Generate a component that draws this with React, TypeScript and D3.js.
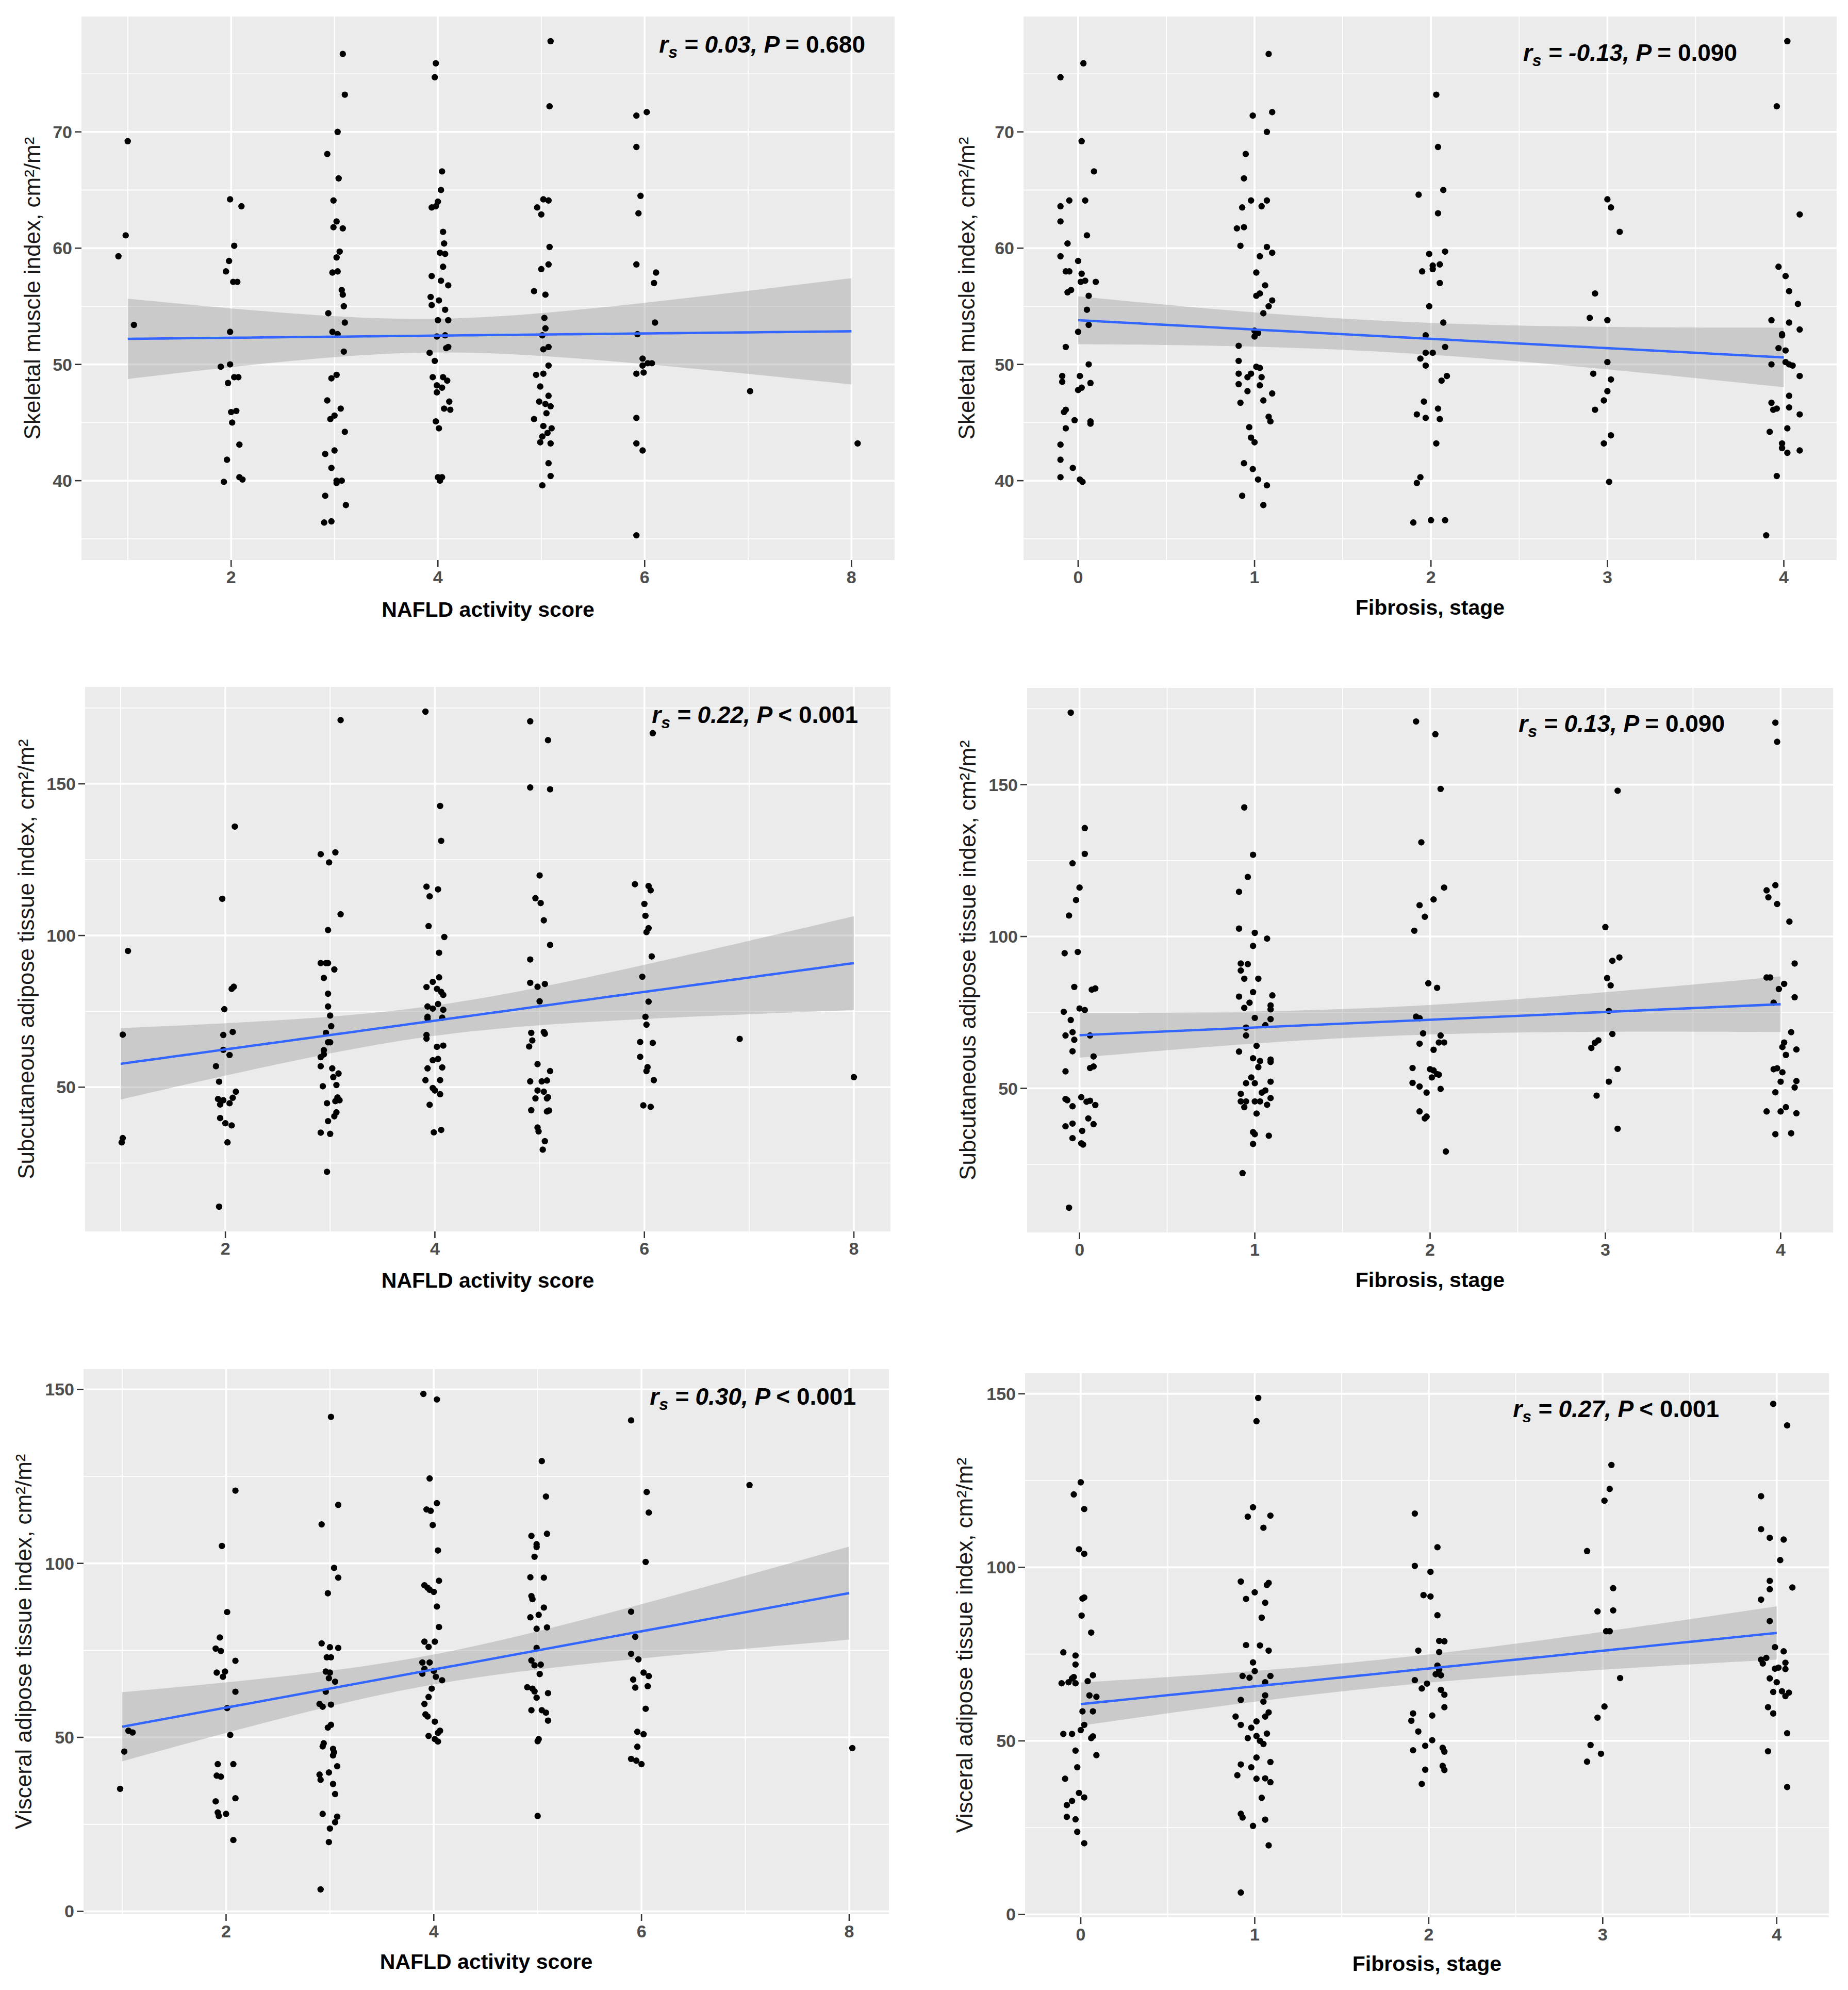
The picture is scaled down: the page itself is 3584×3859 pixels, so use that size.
import React, { useEffect } from "react";
import * as d3 from "d3";

const FONT = "'Liberation Sans', Arial, Helvetica, sans-serif";

// ---------------- tick values ----------------
const nasTicks = [2, 4, 6, 8];
const fibTicks = [0, 1, 2, 3, 4];
const smiTicks = [40, 50, 60, 70];
const satTicks = [50, 100, 150];
const vatTicks = [0, 50, 100, 150];

// ---------------- data: [jittered x, y] ----------------
const smiNas: [number, number][] = [
  [1.00,69.2],[0.98,61.1],[0.91,59.3],[1.06,53.4],
  [1.99,64.2],[2.10,63.6],[2.03,60.2],[1.98,58.9],[1.95,58.0],[2.02,57.1],[2.06,57.1],[1.99,52.8],[1.90,49.8],[1.99,50.0],[2.03,48.9],[2.07,48.9],[1.97,48.4],[2.05,46.0],[2.00,45.9],[2.01,45.0],[2.08,43.1],[1.96,41.8],[1.93,39.9],[2.08,40.3],[2.11,40.1],
  [3.08,76.7],[3.10,73.2],[3.03,70.0],[2.93,68.1],[3.04,66.0],[2.99,64.1],[3.02,62.3],[2.99,61.8],[3.08,61.7],[3.05,59.7],[3.02,59.2],[2.98,57.9],[3.03,58.0],[3.07,56.4],[3.08,56.0],[3.09,55.0],[2.94,54.4],[3.10,53.6],[2.98,52.8],[3.03,52.6],[3.09,51.1],[3.02,49.1],[2.97,48.8],[2.93,46.9],[3.06,46.2],[3.00,45.6],[2.96,45.3],[3.10,44.2],[3.00,42.6],[2.91,42.3],[2.97,41.1],[3.02,40.0],[3.07,40.0],[3.02,39.8],[2.91,38.7],[3.11,37.9],[2.90,36.4],[2.97,36.5],
  [3.98,75.9],[3.97,74.7],[4.04,66.6],[4.03,65.0],[4.00,64.0],[3.94,63.5],[3.98,63.6],[4.05,61.4],[4.06,60.4],[4.02,59.6],[4.07,59.5],[4.05,58.4],[3.94,57.6],[4.03,57.2],[4.10,56.8],[3.93,55.8],[4.01,55.5],[3.94,55.1],[4.07,54.7],[4.00,53.8],[4.10,53.8],[4.07,52.5],[3.99,52.4],[4.10,51.5],[4.08,51.4],[3.92,51.0],[3.97,50.3],[3.95,48.9],[4.05,48.9],[4.09,48.6],[3.99,48.2],[4.04,48.0],[3.99,47.6],[4.11,46.8],[4.06,46.2],[4.12,46.1],[3.98,45.1],[4.01,44.5],[4.00,40.3],[4.04,40.3],[4.02,40.0],
  [5.09,77.8],[5.08,72.2],[5.02,64.2],[5.07,64.1],[4.96,63.5],[5.00,62.9],[5.08,60.1],[5.07,58.6],[5.00,58.2],[4.93,56.3],[5.04,56.0],[5.03,54.0],[5.04,53.1],[5.01,52.5],[5.07,51.5],[5.02,51.3],[5.07,49.9],[4.95,49.1],[5.02,49.2],[4.99,48.1],[5.07,47.3],[4.98,46.8],[5.04,46.6],[5.09,46.4],[5.05,45.8],[4.93,45.3],[5.02,44.7],[5.10,44.5],[5.06,44.1],[5.01,43.8],[4.99,43.3],[5.09,43.2],[5.07,41.5],[5.09,40.4],[5.01,39.6],
  [5.92,71.4],[6.02,71.7],[5.92,68.7],[5.96,64.5],[5.94,63.0],[5.92,58.6],[6.11,57.9],[6.09,57.0],[6.10,53.6],[5.93,52.6],[5.98,50.5],[6.03,50.1],[6.07,50.1],[5.98,49.9],[5.92,49.2],[5.99,49.3],[5.92,45.4],[5.92,43.2],[5.98,42.6],[5.92,35.3],
  [7.02,47.7],
  [8.06,43.2],
];

const smiFib: [number, number][] = [
  [-0.10,74.7],[0.03,75.9],[0.02,69.2],[0.09,66.6],[-0.10,63.6],[-0.05,64.1],[0.04,64.1],[-0.10,62.3],[0.05,61.1],[-0.06,60.4],[-0.10,59.3],[0.00,58.9],[-0.07,58.0],[-0.05,58.0],[0.02,57.8],[0.015,57.1],[0.04,57.2],[0.10,57.1],[-0.06,56.2],[-0.04,56.4],[0.06,55.9],[0.05,54.7],[0.06,53.4],[0.00,52.8],[-0.07,51.5],[0.06,50.0],[-0.09,49.0],[-0.09,48.5],[0.01,49.0],[0.07,48.4],[0.02,48.0],[0.00,47.8],[-0.07,46.1],[-0.08,45.9],[-0.02,45.2],[0.07,45.1],[0.07,44.9],[-0.07,44.5],[-0.10,43.1],[-0.10,41.8],[-0.03,41.1],[-0.10,40.3],[0.01,40.1],[0.025,39.9],
  [1.08,76.7],[0.99,71.4],[1.10,71.7],[1.07,70.0],[0.95,68.1],[0.94,66.0],[0.98,64.1],[1.07,64.1],[1.04,63.6],[0.93,63.5],[0.90,61.7],[0.94,61.8],[0.92,60.2],[1.07,60.1],[1.10,59.6],[1.03,59.3],[1.01,57.9],[1.06,56.8],[1.03,56.1],[1.01,55.9],[1.10,55.5],[1.08,55.0],[1.05,54.4],[1.00,52.9],[1.02,52.7],[1.00,52.4],[0.91,51.6],[0.91,50.3],[1.01,49.8],[1.03,49.7],[0.91,49.2],[0.98,49.2],[0.96,48.9],[1.04,48.9],[0.91,48.3],[1.03,48.2],[0.96,47.7],[1.10,47.5],[1.05,46.9],[0.92,46.7],[1.08,45.5],[1.09,45.1],[0.97,44.6],[0.98,43.7],[1.00,43.3],[0.94,41.5],[0.99,41.0],[1.02,40.1],[1.07,39.6],[0.93,38.7],[1.05,37.9],
  [2.03,73.2],[2.04,68.7],[1.93,64.6],[2.07,65.0],[2.04,63.0],[1.99,59.5],[2.08,59.7],[2.01,58.5],[2.01,58.2],[2.05,58.6],[1.95,58.0],[2.05,57.0],[1.99,55.0],[2.07,53.6],[1.97,52.5],[1.97,51.0],[2.01,51.0],[2.08,51.5],[1.94,50.5],[1.97,49.9],[2.09,49.0],[2.06,48.6],[1.96,46.8],[1.92,45.7],[1.97,45.4],[2.04,46.2],[2.05,45.3],[2.03,43.2],[1.94,40.3],[1.92,39.8],[1.90,36.4],[2.00,36.6],[2.08,36.6],
  [3.00,64.2],[3.02,63.5],[3.07,61.4],[2.93,56.1],[2.90,54.0],[3.00,53.8],[3.00,50.2],[2.92,49.2],[3.02,48.7],[3.00,47.7],[2.98,46.9],[2.93,46.1],[3.02,43.9],[2.98,43.2],[3.01,39.9],
  [4.02,77.8],[3.96,72.2],[4.09,62.9],[3.97,58.4],[4.01,57.6],[4.03,56.3],[4.08,55.2],[3.93,53.8],[4.03,53.6],[4.09,53.0],[3.99,52.6],[3.99,52.5],[3.97,51.4],[4.01,51.2],[3.93,50.0],[4.01,50.2],[4.03,50.0],[4.05,49.9],[4.09,49.0],[4.03,47.3],[3.93,46.7],[3.94,46.1],[3.96,46.2],[4.03,46.3],[4.09,45.7],[4.02,44.5],[3.92,44.2],[3.99,43.2],[3.99,42.8],[4.02,42.4],[4.09,42.6],[3.96,40.4],[3.90,35.3],
];

const satNas: [number, number][] = [
  [1.07,94.9],[1.02,67.3],[1.02,33.2],[1.01,31.8],
  [2.09,135.9],[1.97,112.1],[2.08,83.1],[2.06,82.4],[1.99,75.7],[1.98,67.2],[2.07,68.2],[1.98,62.3],[2.04,60.6],[1.91,56.9],[1.94,51.8],[1.93,46.1],[1.98,45.7],[2.10,48.5],[2.07,46.5],[1.95,44.3],[2.04,44.7],[1.95,39.8],[2.00,38.1],[2.06,37.4],[2.02,31.8],[1.94,10.6],
  [3.10,171.0],[2.91,126.8],[3.05,127.4],[2.99,124.1],[3.10,107.0],[2.98,101.8],[2.91,90.9],[2.96,90.9],[2.98,90.9],[3.04,88.8],[2.94,86.0],[2.98,80.8],[2.98,76.6],[3.00,73.6],[3.01,70.1],[2.96,67.9],[3.00,64.8],[2.98,64.8],[2.94,62.2],[2.91,59.9],[2.94,60.8],[2.91,56.9],[3.02,56.2],[3.08,54.5],[3.03,53.3],[3.06,50.7],[2.93,50.3],[3.07,46.6],[3.09,45.7],[3.05,45.4],[2.97,44.7],[3.06,41.7],[3.04,40.4],[2.98,38.8],[2.91,35.0],[3.00,34.6],[2.97,22.1],
  [3.91,173.8],[4.05,142.7],[4.06,131.2],[3.92,116.1],[3.95,112.9],[4.03,115.2],[3.94,103.1],[4.09,99.5],[4.04,94.3],[4.04,86.2],[3.98,84.7],[3.92,83.0],[4.02,82.4],[4.06,81.4],[4.08,80.4],[4.03,77.4],[3.93,76.6],[3.98,75.9],[4.08,75.5],[3.93,73.2],[3.93,72.6],[4.07,72.9],[3.92,67.2],[3.92,66.0],[4.02,63.3],[4.08,63.7],[4.03,59.3],[3.98,58.9],[3.93,56.2],[4.07,56.5],[3.91,52.3],[4.05,52.3],[3.98,49.7],[4.00,48.9],[4.05,47.7],[3.95,44.2],[3.99,35.1],[4.06,35.9],
  [4.91,170.6],[5.08,164.4],[4.91,148.8],[5.10,148.2],[5.00,119.8],[4.96,112.3],[5.01,110.7],[5.04,105.0],[5.10,96.9],[4.91,92.1],[4.91,84.4],[4.98,83.1],[5.05,84.0],[5.00,78.3],[4.92,67.9],[5.04,68.2],[5.05,67.6],[4.93,65.4],[4.90,63.4],[4.98,57.6],[5.10,55.3],[4.91,51.9],[5.02,51.9],[5.07,52.2],[4.98,48.9],[5.04,48.5],[4.96,46.3],[5.07,46.3],[5.08,46.7],[4.92,42.4],[5.07,42.0],[5.09,42.3],[4.98,36.7],[4.99,35.4],[5.05,32.2],[5.03,29.4],
  [6.08,166.7],[5.91,116.9],[6.04,116.3],[6.06,114.9],[6.00,110.4],[6.01,106.5],[6.04,102.4],[6.02,101.1],[6.07,93.1],[5.98,86.4],[6.04,78.2],[6.01,73.2],[6.02,70.6],[5.96,64.9],[6.08,64.6],[5.96,60.0],[6.03,56.6],[6.02,55.3],[6.09,52.3],[5.99,44.0],[6.06,43.5],
  [6.91,65.9],
  [8.00,53.3],
];

const satFib: [number, number][] = [
  [-0.05,173.7],[0.03,135.7],[0.03,127.2],[-0.04,124.1],[0.00,116.1],[-0.02,112.0],[-0.06,106.9],[-0.085,94.5],[-0.01,94.9],[-0.03,83.4],[0.07,82.5],[0.09,82.9],[0.00,76.3],[0.03,75.8],[-0.09,75.2],[-0.05,72.5],[-0.04,68.5],[-0.08,67.4],[0.06,67.4],[-0.03,66.0],[-0.04,62.2],[0.08,60.5],[0.08,57.2],[0.06,56.7],[-0.08,55.6],[-0.08,46.5],[-0.07,46.1],[0.01,47.1],[0.04,45.6],[0.06,45.9],[0.09,44.5],[-0.04,44.1],[0.05,40.1],[-0.04,38.4],[-0.08,37.5],[0.08,38.2],[0.015,36.0],[-0.04,33.6],[0.01,31.9],[0.02,31.5],[-0.06,10.7],
  [0.94,142.5],[0.99,126.9],[0.96,119.6],[0.91,114.7],[0.91,102.6],[1.00,101.2],[1.07,99.3],[0.99,96.9],[0.92,91.1],[0.96,90.9],[0.92,88.8],[0.94,86.1],[1.02,86.1],[0.99,81.7],[1.10,80.6],[0.91,80.2],[0.97,78.2],[1.09,77.3],[1.09,76.0],[0.94,76.5],[1.00,73.2],[1.09,72.8],[1.06,70.8],[0.95,70.0],[0.95,67.4],[0.91,62.1],[1.01,64.0],[0.99,59.9],[1.03,59.0],[1.09,59.5],[1.09,58.7],[1.02,57.0],[0.98,53.6],[0.95,51.7],[1.00,51.7],[1.09,52.2],[1.06,49.3],[1.04,48.6],[0.92,48.2],[0.92,45.7],[0.95,45.7],[1.00,45.7],[1.03,45.7],[1.09,46.8],[1.07,44.6],[0.94,43.8],[1.01,41.7],[0.99,35.6],[1.00,34.9],[0.99,31.7],[1.08,34.4],[0.93,22.1],
  [1.92,170.8],[2.03,166.6],[2.06,148.6],[1.95,131.0],[2.08,116.1],[2.02,112.2],[1.94,110.3],[1.97,106.5],[1.91,101.9],[1.99,84.6],[2.04,83.1],[1.92,73.6],[1.94,73.1],[1.96,68.1],[2.06,67.4],[1.94,64.7],[2.05,65.1],[2.08,65.1],[2.02,62.7],[1.90,56.7],[2.00,56.3],[2.02,55.9],[2.04,54.7],[2.05,54.5],[2.01,53.6],[1.90,51.8],[1.94,50.6],[2.06,49.8],[1.98,48.6],[1.94,42.4],[1.97,40.1],[1.98,40.7],[2.09,29.2],
  [3.00,103.1],[3.07,148.0],[3.08,93.1],[3.04,92.0],[3.01,86.3],[3.03,83.9],[3.02,75.5],[3.04,67.9],[2.96,65.8],[2.94,65.0],[2.92,63.3],[3.07,56.4],[3.02,52.2],[2.95,47.6],[3.07,36.7],
  [3.97,170.4],[3.98,164.1],[3.97,116.9],[3.92,115.2],[3.93,112.9],[3.98,110.7],[4.05,104.9],[4.08,91.1],[3.92,86.5],[3.94,86.5],[4.02,84.4],[3.99,82.7],[3.96,78.2],[4.08,80.0],[4.06,68.5],[4.02,65.1],[4.01,63.6],[4.09,62.8],[4.03,61.0],[3.96,56.3],[3.98,56.6],[4.01,55.3],[4.00,52.2],[4.09,52.4],[4.08,50.3],[3.97,48.7],[4.03,43.8],[3.92,42.4],[4.00,42.4],[4.09,41.8],[3.97,34.9],[4.06,35.2],
];

const vatNas: [number, number][] = [
  [0.98,35.2],[1.02,45.9],[1.06,51.9],[1.10,51.4],
  [2.09,120.9],[1.96,105.0],[2.01,86.0],[1.94,78.7],[1.90,75.5],[1.95,74.8],[2.09,72.0],[1.91,68.6],[1.99,68.9],[1.97,67.4],[2.09,63.1],[2.01,58.4],[2.04,50.7],[1.92,42.3],[2.07,42.3],[1.91,39.0],[1.95,38.7],[2.09,32.5],[1.90,31.6],[1.92,28.4],[1.93,27.4],[2.00,28.0],[2.07,20.5],
  [3.01,142.1],[3.08,116.8],[2.92,111.2],[3.04,98.7],[3.08,95.9],[2.98,91.4],[2.92,77.0],[3.00,75.9],[3.08,75.7],[2.97,73.0],[3.01,73.0],[2.96,68.9],[3.00,68.6],[2.99,67.0],[3.05,66.0],[2.96,63.1],[2.90,59.6],[2.93,58.8],[3.01,59.4],[3.01,53.6],[2.98,52.8],[2.94,48.3],[2.93,47.4],[3.03,46.7],[3.04,45.7],[3.03,44.8],[3.07,41.7],[2.99,39.9],[2.90,39.3],[2.91,37.8],[3.03,36.6],[3.05,33.7],[2.93,28.0],[3.07,27.2],[3.05,25.6],[3.00,23.8],[2.99,19.9],[2.91,6.3],
  [3.90,148.7],[4.03,147.1],[3.96,124.4],[4.03,117.3],[3.93,115.5],[3.97,115.1],[3.99,111.0],[4.04,103.7],[3.91,93.7],[3.94,93.0],[4.05,95.0],[4.00,91.8],[3.96,92.4],[4.03,87.6],[4.05,81.7],[3.91,77.5],[4.01,77.5],[3.95,76.0],[3.89,71.5],[3.96,71.5],[3.91,69.7],[3.89,68.3],[4.00,69.1],[4.02,67.4],[4.08,66.4],[3.98,64.0],[3.95,61.6],[3.91,59.6],[3.92,56.6],[3.94,56.0],[4.01,54.5],[4.06,51.9],[4.04,51.3],[3.95,50.4],[4.01,49.5],[4.04,48.8],
  [5.04,129.4],[5.08,119.2],[4.94,107.9],[4.99,105.5],[4.99,104.7],[5.09,108.5],[4.97,101.9],[4.93,96.0],[5.06,95.9],[4.94,90.6],[4.95,89.7],[5.01,85.2],[5.06,87.3],[4.93,84.5],[4.99,81.2],[5.09,81.6],[4.99,75.7],[4.94,72.1],[4.97,70.7],[5.03,70.9],[5.02,68.2],[4.90,64.4],[4.95,64.0],[4.97,63.2],[4.99,61.4],[5.10,62.7],[4.94,57.8],[5.04,57.8],[5.08,57.1],[5.10,54.8],[5.00,48.9],[5.01,49.5],[5.00,27.4],
  [5.90,141.1],[6.05,120.5],[6.07,114.6],[6.04,100.4],[5.90,86.1],[5.94,78.9],[5.90,74.0],[5.97,72.4],[6.02,68.6],[6.07,67.6],[5.92,66.6],[5.94,64.3],[6.06,64.7],[6.04,58.2],[5.96,51.6],[6.02,50.9],[5.96,47.3],[5.90,43.8],[5.95,43.3],[6.00,42.3],
  [7.04,122.5],
  [8.03,46.9],
];

const vatFib: [number, number][] = [
  [0.00,124.5],[-0.04,121.0],[0.02,116.8],[-0.01,105.2],[0.02,103.9],[0.01,91.0],[0.02,91.3],[0.005,86.1],[0.06,81.2],[-0.10,75.5],[-0.03,74.6],[-0.03,72.0],[-0.11,66.6],[-0.07,66.9],[-0.05,68.0],[-0.03,66.6],[-0.04,68.4],[0.04,67.2],[0.07,68.9],[0.05,63.1],[0.09,62.7],[0.01,58.5],[0.07,58.5],[0.02,54.6],[0.00,53.1],[-0.10,52.0],[-0.05,52.0],[0.06,50.8],[0.07,51.3],[-0.03,47.2],[0.09,45.9],[-0.02,42.4],[-0.09,39.1],[-0.01,35.0],[0.02,33.7],[-0.08,31.5],[-0.05,32.7],[-0.08,28.1],[-0.03,27.4],[-0.02,23.8],[0.02,20.5],
  [1.02,148.8],[1.01,142.1],[0.99,117.3],[0.96,114.6],[1.09,114.9],[1.05,111.4],[0.92,95.9],[1.08,95.5],[1.07,94.9],[1.00,92.8],[0.95,90.9],[1.06,89.8],[1.04,85.5],[0.95,77.6],[1.03,77.5],[1.08,76.0],[0.99,72.6],[0.93,68.7],[0.97,68.2],[1.00,70.1],[1.09,68.7],[1.06,66.9],[1.06,63.1],[0.92,61.8],[1.05,61.3],[1.08,58.2],[1.06,57.0],[0.89,57.0],[1.01,55.6],[0.92,54.6],[0.98,53.8],[1.07,52.1],[1.01,51.4],[1.03,50.0],[1.05,49.1],[0.96,50.8],[1.01,45.2],[0.92,43.2],[1.09,43.9],[0.98,42.4],[0.90,40.1],[1.01,39.1],[1.06,39.2],[1.09,38.1],[1.04,33.6],[0.92,29.0],[0.93,27.9],[0.99,25.5],[1.06,27.3],[1.08,19.9],[0.92,6.3],
  [1.92,115.5],[2.05,105.8],[1.92,100.4],[2.01,98.7],[1.97,92.0],[2.01,91.6],[2.05,86.2],[2.06,78.8],[2.09,78.7],[1.94,76.0],[2.06,75.6],[2.05,71.7],[2.06,70.5],[2.04,69.2],[2.07,68.9],[1.92,67.5],[1.99,66.5],[1.96,65.1],[2.07,64.7],[2.09,63.3],[2.09,59.7],[1.91,57.9],[1.90,55.8],[2.02,57.3],[1.94,52.7],[2.02,50.2],[1.91,47.3],[1.98,48.6],[2.08,48.0],[2.09,46.9],[1.98,41.7],[2.08,42.8],[2.09,41.6],[1.96,37.6],
  [3.05,129.5],[3.04,122.6],[3.01,119.2],[2.91,104.7],[3.06,94.0],[2.97,87.3],[3.06,87.6],[3.02,81.6],[3.04,81.6],[3.10,68.1],[3.01,59.9],[2.97,56.7],[2.93,48.8],[2.99,46.3],[2.91,44.0],
  [3.98,147.1],[4.06,140.9],[3.91,120.5],[3.91,111.0],[3.96,108.5],[4.04,108.0],[4.02,102.1],[3.96,96.1],[3.96,93.7],[4.09,94.2],[3.91,90.7],[3.96,84.5],[3.99,77.0],[4.04,75.8],[3.91,73.4],[3.94,73.9],[3.92,72.3],[4.05,72.5],[3.99,70.8],[4.01,71.1],[4.05,70.7],[3.96,68.0],[4.00,66.9],[3.98,64.1],[4.03,64.3],[4.05,62.9],[4.07,63.9],[3.95,59.7],[3.98,57.9],[4.06,52.2],[3.95,47.0],[4.06,36.7],
];

// fitted (lm) line values read at the first and last x category, per panel
const fitStart = [52.2, 53.8, 57.7, 67.5, 53.05, 60.6];
const fitEnd = [52.85, 50.6, 90.9, 77.7, 91.45, 81.1];

// ---------------- labels ----------------
const xTitles = ["NAFLD activity score", "Fibrosis, stage"];
const yTitles = [
  "Skeletal muscle index, cm\u00B2/m\u00B2",
  "Subcutaneous adipose tissue index, cm\u00B2/m\u00B2",
  "Visceral adipose tissue index, cm\u00B2/m\u00B2",
];
const rhoValues = ["0.03", "-0.13", "0.22", "0.13", "0.30", "0.27"];
const pValues = ["= 0.680", "= 0.090", "< 0.001", "= 0.090", "< 0.001", "< 0.001"];

// ---------------- layout (pixel positions) ----------------
type Layout = {
  rect: [number, number, number, number];
  xTitleY: number;
  yTitleX: number;
  annX: number;
  annY: number;
};
const layouts: Layout[] = [
  { rect: [158, 32, 1735, 1086], xTitleY: 1196, yTitleX: 78, annX: 1678, annY: 102 },
  { rect: [1985, 32, 3562, 1086], xTitleY: 1192, yTitleX: 1890, annX: 3369, annY: 118 },
  { rect: [165, 1332, 1727, 2388], xTitleY: 2497, yTitleX: 66, annX: 1664, annY: 1402 },
  { rect: [1992, 1334, 3555, 2390], xTitleY: 2496, yTitleX: 1892, annX: 3345, annY: 1419 },
  { rect: [162, 2655, 1724, 3712], xTitleY: 3818, yTitleX: 61, annX: 1660, annY: 2724 },
  { rect: [1988, 2663, 3547, 3718], xTitleY: 3822, yTitleX: 1886, annX: 3334, annY: 2748 },
];

const T975 = 1.974; // t quantile for 95% CI, df ~ 170

type PanelProps = {
  layout: Layout;
  pts: [number, number][];
  xTicks: number[];
  yTicks: number[];
  xTitle: string;
  yTitle: string;
  rho: string;
  p: string;
  f0: number;
  f1: number;
};

function minorTicks(major: number[], domain: number[]) {
  const step = major[1] - major[0];
  const out: number[] = [];
  for (let v = major[0] - step / 2; v <= major[major.length - 1] + step; v += step) {
    if (v >= domain[0] && v <= domain[1]) out.push(v);
  }
  return out;
}

function Panel({ layout, pts, xTicks, yTicks, xTitle, yTitle, rho, p, f0, f1 }: PanelProps) {
  const [L, T, R, B] = layout.rect;
  const xs = pts.map((d) => d[0]);
  const ys = pts.map((d) => d[1]);
  const [xmin, xmax] = d3.extent(xs) as [number, number];
  const [ymin, ymax] = d3.extent(ys) as [number, number];
  const xp = (xmax - xmin) * 0.05;
  const yp = (ymax - ymin) * 0.05;
  const xDom = [xmin - xp, xmax + xp];
  const yDom = [ymin - yp, ymax + yp];
  const x = d3.scaleLinear().domain(xDom).range([L, R]);
  const y = d3.scaleLinear().domain(yDom).range([B, T]);

  // linear model on the un-jittered (integer) x -> standard error shape
  const xi = xs.map((v) => Math.round(v));
  const n = xi.length;
  const mx = d3.mean(xi) as number;
  const my = d3.mean(ys) as number;
  let sxx = 0, sxy = 0;
  for (let i = 0; i < n; i++) {
    sxx += (xi[i] - mx) ** 2;
    sxy += (xi[i] - mx) * (ys[i] - my);
  }
  const b = sxy / sxx;
  const a = my - b * mx;
  let sse = 0;
  for (let i = 0; i < n; i++) sse += (ys[i] - (a + b * xi[i])) ** 2;
  const s = Math.sqrt(sse / (n - 2));
  const x0 = d3.min(xi) as number;
  const x1 = d3.max(xi) as number;
  const fitScale = d3.scaleLinear().domain([x0, x1]).range([f0, f1]);
  const grid = d3.range(0, 81).map((k) => x0 + ((x1 - x0) * k) / 80);
  const fit = grid.map((gx) => {
    const yh = fitScale(gx);
    const se = s * Math.sqrt(1 / n + (gx - mx) ** 2 / sxx);
    return { gx, yh, lo: yh - T975 * se, hi: yh + T975 * se };
  });
  const area = d3
    .area<{ gx: number; lo: number; hi: number }>()
    .x((d) => x(d.gx))
    .y0((d) => y(d.lo))
    .y1((d) => y(d.hi));
  const line = d3
    .line<{ gx: number; yh: number }>()
    .x((d) => x(d.gx))
    .y((d) => y(d.yh));

  const xMin = minorTicks(xTicks, xDom);
  const yMin = minorTicks(yTicks, yDom);
  const cx = (L + R) / 2;
  const cy = (T + B) / 2;

  return (
    <g>
      <rect x={L} y={T} width={R - L} height={B - T} fill="#EBEBEB" />
      {xMin.map((v) => (
        <line key={"xm" + v} x1={x(v)} x2={x(v)} y1={T} y2={B} stroke="#FFFFFF" strokeWidth={1.8} />
      ))}
      {yMin.map((v) => (
        <line key={"ym" + v} x1={L} x2={R} y1={y(v)} y2={y(v)} stroke="#FFFFFF" strokeWidth={1.8} />
      ))}
      {xTicks.map((v) => (
        <line key={"xM" + v} x1={x(v)} x2={x(v)} y1={T} y2={B} stroke="#FFFFFF" strokeWidth={3.6} />
      ))}
      {yTicks.map((v) => (
        <line key={"yM" + v} x1={L} x2={R} y1={y(v)} y2={y(v)} stroke="#FFFFFF" strokeWidth={3.6} />
      ))}
      <path d={area(fit) || ""} fill="#999999" fillOpacity={0.4} />
      {pts.map((d, i) => (
        <circle key={i} cx={x(d[0])} cy={y(d[1])} r={6.2} fill="#000000" />
      ))}
      <path d={line(fit) || ""} fill="none" stroke="#3366FF" strokeWidth={4.6} />
      {xTicks.map((v) => (
        <g key={"xt" + v}>
          <line x1={x(v)} x2={x(v)} y1={B} y2={B + 13} stroke="#333333" strokeWidth={2.6} />
          <text x={x(v)} y={B + 45} textAnchor="middle" fontFamily={FONT} fontWeight="bold" fontSize={34} fill="#4D4D4D">
            {v}
          </text>
        </g>
      ))}
      {yTicks.map((v) => (
        <g key={"yt" + v}>
          <line x1={L - 13} x2={L} y1={y(v)} y2={y(v)} stroke="#333333" strokeWidth={2.6} />
          <text x={L - 18} y={y(v) + 12} textAnchor="end" fontFamily={FONT} fontWeight="bold" fontSize={34} fill="#4D4D4D">
            {v}
          </text>
        </g>
      ))}
      <text x={cx} y={layout.xTitleY} textAnchor="middle" fontFamily={FONT} fontWeight="bold" fontSize={41} fill="#000000">
        {xTitle}
      </text>
      <text
        transform={`translate(${layout.yTitleX},${cy}) rotate(-90)`}
        textAnchor="middle"
        fontFamily={FONT}
        fontSize={44}
        fill="#1A1A1A"
      >
        {yTitle}
      </text>
      <text
        x={layout.annX}
        y={layout.annY}
        textAnchor="end"
        fontFamily={FONT}
        fontWeight="bold"
        fontSize={46}
        fill="#000000"
        style={{ whiteSpace: "pre" }}
      >
        <tspan fontStyle="italic">r</tspan>
        <tspan fontStyle="italic" fontSize={32} dy={10}>s</tspan>
        <tspan fontStyle="italic" dy={-10}>{` = ${rho}, P `}</tspan>
        <tspan>{p}</tspan>
      </text>
    </g>
  );
}

export default function App() {
  useEffect(() => {
    document.body.style.margin = "0";
  }, []);
  const datasets = [smiNas, smiFib, satNas, satFib, vatNas, vatFib];
  const yTickSets = [smiTicks, smiTicks, satTicks, satTicks, vatTicks, vatTicks];
  return (
    <svg width={3584} height={3859} viewBox="0 0 3584 3859" style={{ display: "block", background: "#FFFFFF" }}>
      <rect x={0} y={0} width={3584} height={3859} fill="#FFFFFF" />
      {datasets.map((pts, i) => (
        <Panel
          key={i}
          layout={layouts[i]}
          pts={pts}
          xTicks={i % 2 === 0 ? nasTicks : fibTicks}
          yTicks={yTickSets[i]}
          xTitle={xTitles[i % 2]}
          yTitle={yTitles[Math.floor(i / 2)]}
          rho={rhoValues[i]}
          p={pValues[i]}
          f0={fitStart[i]}
          f1={fitEnd[i]}
        />
      ))}
    </svg>
  );
}
